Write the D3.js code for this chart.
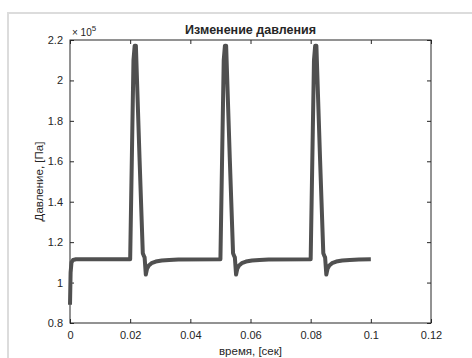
<!DOCTYPE html>
<html>
<head>
<meta charset="utf-8">
<script src="https://cdn.jsdelivr.net/npm/d3@7"></script>
<style>
  body { margin: 0; background: #fff; }
  text { font-family: "Liberation Sans", Arial, sans-serif; fill: #262626; }
</style>
</head>
<body>
<div id="chart"></div>
<script>
// time, s
const time = [
  0, 0.0002, 0.0005, 0.001, 0.002,
  0.0200, 0.0211, 0.0215, 0.0219, 0.0231, 0.0242, 0.0246, 0.0248, 0.0252, 0.0256, 0.0262, 0.0271, 0.0285, 0.0305, 0.033, 0.036,
  0.0500, 0.0511, 0.0515, 0.0519, 0.0531, 0.0542, 0.0546, 0.0548, 0.0552, 0.0556, 0.0562, 0.0571, 0.0585, 0.0605, 0.063, 0.066,
  0.0800, 0.0811, 0.0815, 0.0819, 0.0831, 0.0842, 0.0846, 0.0848, 0.0852, 0.0856, 0.0862, 0.0871, 0.0885, 0.0905, 0.093, 0.096,
  0.1000
]
// pressure, x1e5 Pa
const pressure = [
  0.89, 1.05, 1.10, 1.112, 1.115,
  1.115, 2.10, 2.172, 2.172, 1.62, 1.145, 1.13, 1.125, 1.04, 1.068, 1.084, 1.096, 1.104, 1.109, 1.112, 1.114,
  1.115, 2.10, 2.172, 2.172, 1.62, 1.145, 1.13, 1.125, 1.04, 1.068, 1.084, 1.096, 1.104, 1.109, 1.112, 1.114,
  1.115, 2.10, 2.172, 2.172, 1.62, 1.145, 1.13, 1.125, 1.04, 1.068, 1.084, 1.096, 1.104, 1.109, 1.112, 1.114,
  1.115
]
const xTicks = [0, 0.02, 0.04, 0.06, 0.08, 0.1, 0.12]
const yTicks = [0.8, 1, 1.2, 1.4, 1.6, 1.8, 2, 2.2]

const width = 472
const height = 358
const mLeft = 70, mRight = 431, mTop = 40, mBottom = 323

const svg = d3.select("#chart").append("svg")
    .attr("width", width)
    .attr("height", height)

// figure frame
svg.append("rect")
    .attr("x", 8).attr("y", 13)
    .attr("width", 480).attr("height", 360)
    .attr("fill", "none")
    .attr("stroke", "#dcdcdc")
    .attr("stroke-width", 2)

const x = d3.scaleLinear().domain([0, 0.12]).range([mLeft, mRight])
const y = d3.scaleLinear().domain([0.8, 2.2]).range([mBottom, mTop])

const axisColor = "#262626"

const styleAxis = g => {
    g.select(".domain").remove()
    g.selectAll(".tick line").attr("stroke", axisColor)
    g.selectAll(".tick text").attr("font-size", 11).attr("fill", axisColor)
}

svg.append("g")
    .attr("transform", `translate(0,${mBottom})`)
    .call(d3.axisBottom(x).tickValues(xTicks).tickSize(-4).tickPadding(8).tickFormat(d3.format("~g")))
    .call(styleAxis)

svg.append("g")
    .attr("transform", `translate(0,${mTop})`)
    .call(d3.axisTop(x).tickValues(xTicks).tickSize(-4).tickFormat(""))
    .call(styleAxis)

svg.append("g")
    .attr("transform", `translate(${mLeft},0)`)
    .call(d3.axisLeft(y).tickValues(yTicks).tickSize(-4).tickPadding(7).tickFormat(d3.format("~g")))
    .call(styleAxis)

svg.append("g")
    .attr("transform", `translate(${mRight},0)`)
    .call(d3.axisRight(y).tickValues(yTicks).tickSize(-4).tickFormat(""))
    .call(styleAxis)

svg.append("rect")
    .attr("x", mLeft).attr("y", mTop)
    .attr("width", mRight - mLeft).attr("height", mBottom - mTop)
    .attr("fill", "none")
    .attr("stroke", axisColor)
    .attr("stroke-width", 1)

const points = time.map((t, i) => [t, pressure[i]])

svg.append("path")
    .datum(points)
    .attr("fill", "none")
    .attr("stroke", "#505050")
    .attr("stroke-width", 4)
    .attr("stroke-linejoin", "round")
    .attr("d", d3.line().x(d => x(d[0])).y(d => y(d[1])))

// exponent label
const ex = svg.append("text")
    .attr("x", mLeft + 2).attr("y", mTop - 4)
    .attr("font-size", 10)
ex.append("tspan").text("\u00d7 10")
ex.append("tspan").attr("dy", -5).attr("font-size", 8).text("5")

svg.append("text")
    .attr("x", (mLeft + mRight) / 2).attr("y", mTop - 6)
    .attr("text-anchor", "middle")
    .attr("font-size", 12.5)
    .attr("font-weight", "bold")
    .text("Изменение давления")

svg.append("text")
    .attr("x", (mLeft + mRight) / 2).attr("y", 355)
    .attr("text-anchor", "middle")
    .attr("font-size", 11.5)
    .text("время, [сек]")

svg.append("text")
    .attr("transform", `translate(43,${(mTop + mBottom) / 2}) rotate(-90)`)
    .attr("text-anchor", "middle")
    .attr("font-size", 11.5)
    .text("Давление, [Па]")
</script>
</body>
</html>
